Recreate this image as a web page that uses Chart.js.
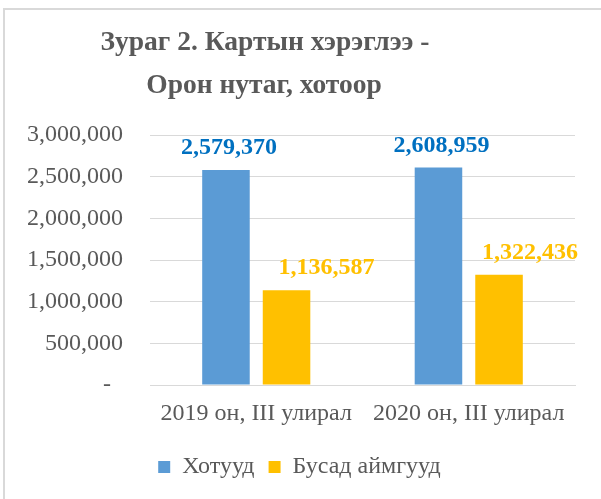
<!DOCTYPE html>
<html>
<head>
<meta charset="utf-8">
<script src="https://cdn.jsdelivr.net/npm/chart.js@4.4.1/dist/chart.umd.min.js"></script>
<style>
  html, body { margin: 0; padding: 0; background: #fff; overflow: hidden; }
  #frame { position: absolute; left: 3px; top: 8px; width: 700px; height: 600px;
           border-left: 2px solid #D9D9D9; border-top: 2px solid #D9D9D9; }
  #wrap { position: absolute; left: 0; top: 0; width: 601px; height: 499px; }
</style>
</head>
<body>
<div id="frame"></div>
<div id="wrap"><canvas id="c" width="601" height="499"></canvas></div>
<script>
const titleLines = ['Зураг 2. Картын хэрэглээ -', 'Орон нутаг, хотоор'];
const categories = ['2019 он, III улирал', '2020 он, III улирал'];
const seriesNames = ['Хотууд', 'Бусад аймгууд'];
const cityValues = [2579370, 2608959];
const otherValues = [1136587, 1322436];
const yTickLabels = ['-  ', '500,000', '1,000,000', '1,500,000', '2,000,000', '2,500,000', '3,000,000'];

const FONT = "'Liberation Serif', 'Times New Roman', serif";
const TEXT = '#595959';

const labelPlugin = {
  id: 'valueLabels',
  afterDatasetsDraw(chart) {
    const ctx = chart.ctx;
    const colors = ['#0070C0', '#FFC000'];
    const dxs = [[3, 3], [40, 31]];
    ctx.save();
    ctx.font = 'bold 24px ' + FONT;
    ctx.textAlign = 'center';
    ctx.textBaseline = 'alphabetic';
    chart.data.datasets.forEach((ds, di) => {
      const meta = chart.getDatasetMeta(di);
      meta.data.forEach((bar, i) => {
        ctx.fillStyle = colors[di];
        ctx.fillText(ds.data[i].toLocaleString('en-US'), bar.x + dxs[di][i], bar.y - 16);
      });
    });
    ctx.restore();
  }
};

const titlePlugin = {
  id: 'customTitle',
  afterDraw(chart) {
    const ctx = chart.ctx;
    ctx.save();
    ctx.font = 'bold 27.5px ' + FONT;
    ctx.fillStyle = TEXT;
    ctx.textAlign = 'center';
    ctx.textBaseline = 'alphabetic';
    ctx.fillText(titleLines[0], 265, 50);
    ctx.fillText(titleLines[1], 264, 93);
    ctx.restore();
  }
};

new Chart(document.getElementById('c'), {
  type: 'bar',
  data: {
    labels: categories,
    datasets: [
      { label: seriesNames[0], data: cityValues, backgroundColor: '#5B9BD5',
        categoryPercentage: 0.57, barPercentage: 0.785 },
      { label: seriesNames[1], data: otherValues, backgroundColor: '#FFC000',
        categoryPercentage: 0.57, barPercentage: 0.785 }
    ]
  },
  options: {
    responsive: false,
    animation: false,
    events: [],
    layout: { padding: { left: 24, right: 26, top: 135, bottom: 10 } },
    plugins: {
      title: { display: false },
      tooltip: { enabled: false },
      legend: {
        position: 'bottom',
        labels: {
          boxWidth: 12, boxHeight: 12, padding: 14,
          color: TEXT, font: { family: FONT, size: 24 }
        }
      }
    },
    scales: {
      x: {
        grid: { display: false, drawTicks: false },
        border: { display: true, color: '#D9D9D9', width: 1 },
        ticks: { color: TEXT, font: { family: FONT, size: 24 }, padding: 14, maxRotation: 0 },
        afterFit(scale) { scale.height = 56; }
      },
      y: {
        min: 0, max: 3000000,
        grid: { color: '#D9D9D9', lineWidth: 1, drawTicks: false },
        border: { display: false },
        ticks: {
          stepSize: 500000, padding: 27, color: TEXT,
          font: { family: FONT, size: 24 },
          callback: (v, i) => yTickLabels[i]
        },
        afterFit(scale) { scale.width = 126; }
      }
    }
  },
  plugins: [labelPlugin, titlePlugin]
});
</script>
</body>
</html>
